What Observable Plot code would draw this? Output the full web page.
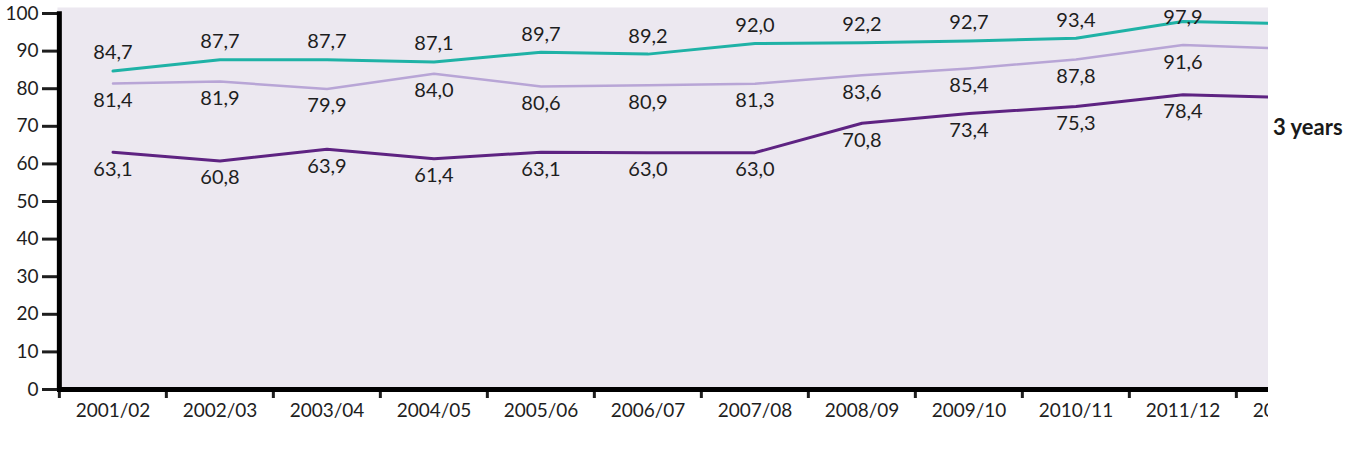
<!DOCTYPE html>
<html><head><meta charset="utf-8">
<script src="https://cdn.jsdelivr.net/npm/d3@7"></script>
<script src="https://cdn.jsdelivr.net/npm/@observablehq/plot@0.6"></script>
<style>
html,body{margin:0;padding:0;background:#fff;}
#wrap{position:relative;width:1348px;height:460px;overflow:hidden;font-family:Lato,"Open Sans",sans-serif;}
#chart svg{overflow:hidden;}
#note{position:absolute;left:1273px;top:114px;font-weight:bold;font-size:22px;line-height:26px;color:#1a1a1a;}
</style></head><body>
<div id="wrap"><div id="chart"></div><div id="note">3 years</div></div>
<script>
const years = ["2001/02","2002/03","2003/04","2004/05","2005/06","2006/07","2007/08","2008/09","2009/10","2010/11","2011/12","2012/13"];
const tealValues   = [84.7, 87.7, 87.7, 87.1, 89.7, 89.2, 92.0, 92.2, 92.7, 93.4, 97.9, 97.3];
const lilacValues  = [81.4, 81.9, 79.9, 84.0, 80.6, 80.9, 81.3, 83.6, 85.4, 87.8, 91.6, 90.6];
const purpleValues = [63.1, 60.8, 63.9, 61.4, 63.1, 63.0, 63.0, 70.8, 73.4, 75.3, 78.4, 77.6];
const yTicks = [0, 10, 20, 30, 40, 50, 60, 70, 80, 90, 100];

const W = 1268, H = 430, ML = 57, MT = 7, MB = 41;
const bandW = 107.3;
const MR = W - (ML + bandW * years.length);
const fmt = v => d3.format(".1f")(v).replace(".", ",");
const rows = vals => vals.map((v, i) => ({year: years[i], value: v, i}));
const teal = rows(tealValues), lilac = rows(lilacValues), purple = rows(purpleValues);
const shown = d => d.i < years.length - 1;
const ink = "#1e1e1e";

const chart = Plot.plot({
  width: W, height: H,
  marginLeft: ML, marginRight: MR, marginTop: MT, marginBottom: MB,
  style: {fontFamily: "Lato, 'Open Sans', sans-serif", fontSize: "19px", color: ink, background: "transparent", overflow: "hidden"},
  x: {type: "band", domain: years, padding: 0, label: null},
  y: {domain: [0, 101.6], label: null},
  marks: [
    Plot.frame({fill: "#ECE8F0", stroke: "none"}),
    Plot.line(lilac, {x: "year", y: "value", stroke: "#B8A5D6", strokeWidth: 2.5}),
    Plot.line(purple, {x: "year", y: "value", stroke: "#5E2382", strokeWidth: 3}),
    Plot.line(teal, {x: "year", y: "value", stroke: "#1FB2A6", strokeWidth: 3}),
    Plot.text(teal, {filter: d => shown(d) && d.value < 95, x: "year", y: "value", text: d => fmt(d.value), dy: -18, fontSize: 20, fill: ink}),
    Plot.text(teal, {filter: d => shown(d) && d.value >= 95, x: "year", y: "value", text: d => fmt(d.value), dy: -4, fontSize: 20, fill: ink}),
    Plot.text(lilac, {filter: shown, x: "year", y: "value", text: d => fmt(d.value), dy: 17, fontSize: 20, fill: ink}),
    Plot.text(purple, {filter: shown, x: "year", y: "value", text: d => fmt(d.value), dy: 17, fontSize: 20, fill: ink}),
    Plot.axisY({ticks: yTicks, tickSize: 15, tickPadding: 4, strokeWidth: 3, fontSize: 19, tickFormat: d => String(d), label: null}),
    Plot.axisX({tickSize: 0, tickPadding: 14, fontSize: 19, label: null}),
    Plot.axisX({tickSize: 9, text: null, dx: -bandW / 2, strokeWidth: 3, label: null}),
    Plot.ruleY([0], {strokeWidth: 5, stroke: "#000"}),
    Plot.ruleX([years[0]], {y1: 0, y2: 100.5, dx: -bandW / 2, strokeWidth: 5, stroke: "#000"})
  ]
});
document.getElementById("chart").appendChild(chart);
</script>
</body></html>
